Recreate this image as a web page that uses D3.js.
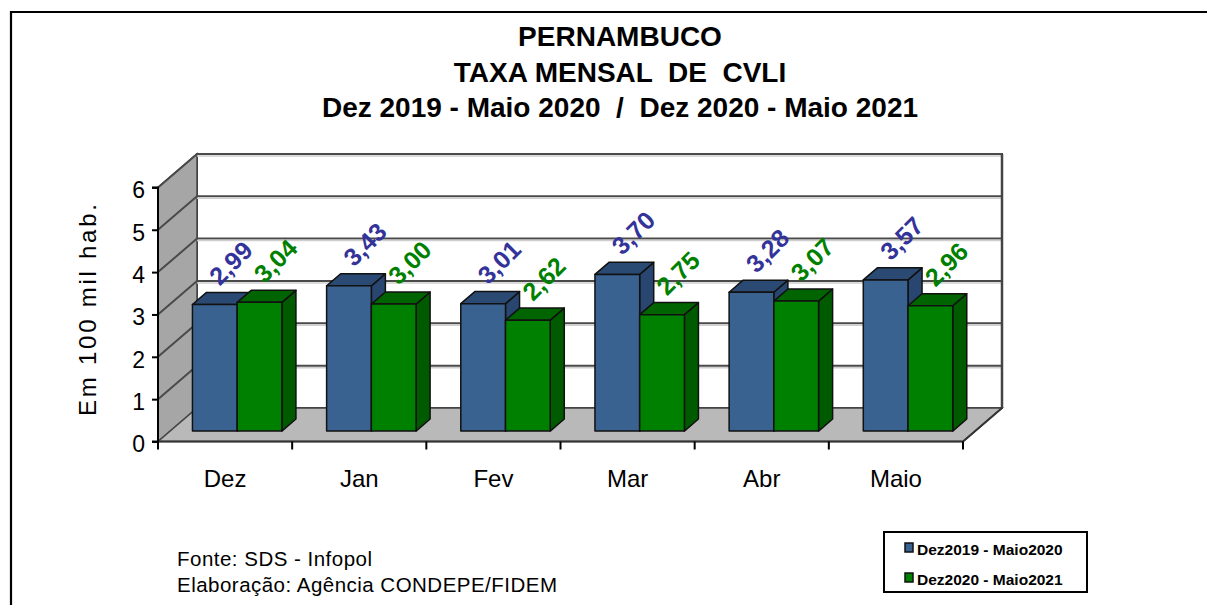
<!DOCTYPE html>
<html><head><meta charset="utf-8">
<script src="https://cdn.jsdelivr.net/npm/d3@7"></script>
<style>
html,body{margin:0;padding:0;background:#fff;}
svg{display:block;font-family:"Liberation Sans",Arial,sans-serif;}
</style></head>
<body><svg id="c" width="1207" height="605"></svg>
<script>
const categories = ["Dez","Jan","Fev","Mar","Abr","Maio"];
const seriesNames = ["Dez2019 - Maio2020","Dez2020 - Maio2021"];
const values2019 = [2.99,3.43,3.01,3.70,3.28,3.57];
const values2020 = [3.04,3.00,2.62,2.75,3.07,2.96];
const labels2019 = ["2,99","3,43","3,01","3,70","3,28","3,57"];
const labels2020 = ["3,04","3,00","2,62","2,75","3,07","2,96"];
const yTicks = [0,1,2,3,4,5,6];
const titleLines = ["PERNAMBUCO","TAXA MENSAL  DE  CVLI","Dez 2019 - Maio 2020  /  Dez 2020 - Maio 2021"];
const footLines = ["Fonte: SDS - Infopol","Elaboração: Agência CONDEPE/FIDEM"];

const seriesVals = [values2019, values2020];
const seriesLabels = [labels2019, labels2020];
const colors = [
  {front:"#3a6291", top:"#2b4a73", side:"#284670", label:"#333399"},
  {front:"#008000", top:"#006400", side:"#005a00", label:"#008000"}
];

const svg = d3.select("#c");
// outer frame
svg.append("path").attr("d","M11,605 L11,12 L1207,12").attr("fill","none").attr("stroke","#000").attr("stroke-width",2.2);

// titles
const tY = [46, 82, 117];
titleLines.forEach((t,i)=>{
  svg.append("text").attr("x",620).attr("y",tY[i]).attr("text-anchor","middle")
    .attr("font-weight","bold").attr("font-size",28).attr("fill","#000").style("white-space","pre").text(t);
});

// 3D geometry
const X0 = 158, X1 = 963;
const DX = 39, DY = -33.5;
const z0 = 0.31, z1 = 0.67;
const x = d3.scaleBand().domain(categories).range([X0, X1]).padding(0);
const xs = d3.scaleBand().domain([0,1]).range([0, x.bandwidth()]).paddingInner(0).paddingOuter(0.5);
const y = d3.scaleLinear().domain([0,6]).range([441.5, 187.4]);
const P = (px, v, z) => [px + z*DX, y(v) + z*DY];
const poly = pts => "M" + pts.map(p=>p.join(",")).join("L") + "Z";

// back wall
svg.append("path").attr("d", poly([P(X0,0,1),P(X1,0,1),P(X1,6,1),P(X0,6,1)]))
  .attr("fill","#fff").attr("stroke","#444").attr("stroke-width",2);
// left wall
svg.append("path").attr("d", poly([P(X0,0,0),P(X0,0,1),P(X0,6,1),P(X0,6,0)]))
  .attr("fill","#a6a6a6").attr("stroke","#444").attr("stroke-width",1.5);
// floor
svg.append("path").attr("d", poly([P(X0,0,0),P(X0,0,1),P(X1,0,1),P(X1,0,0)]))
  .attr("fill","#b9b9b9").attr("stroke","#444").attr("stroke-width",1.5);
// gridlines
yTicks.filter(v=>v>0).forEach(v=>{
  const a = P(X0,v,0), b = P(X0,v,1), c = P(X1,v,1);
  svg.append("path").attr("d", `M${a}L${b}L${c}`).attr("fill","none")
    .attr("stroke","#4a4a4a").attr("stroke-width",2);
  svg.append("path").attr("d", `M${b[0]},${b[1]+2}L${c[0]},${c[1]+2}`).attr("fill","none")
    .attr("stroke","#cfcfcf").attr("stroke-width",1.5);
});
// back wall right edge
svg.append("path").attr("d", `M${P(X1,0,1)}L${P(X1,6,1)}`).attr("stroke","#444").attr("stroke-width",2.5);
// floor front edge
svg.append("path").attr("d", `M${P(X0,0,0)}L${P(X1,0,0)}L${P(X1,0,1)}`).attr("fill","none").attr("stroke","#333").attr("stroke-width",2);

// bars
categories.forEach((c,i)=>{
  [0,1].forEach(s=>{
    const v = seriesVals[s][i];
    const xl = x(c) + xs(s), xr = xl + xs.bandwidth();
    const col = colors[s];
    const g = svg.append("g");
    g.append("path").attr("d", poly([P(xr,0,z0),P(xr,0,z1),P(xr,v,z1),P(xr,v,z0)]))
      .attr("fill",col.side).attr("stroke","#111").attr("stroke-width",1.5).attr("stroke-linejoin","round");
    g.append("path").attr("d", poly([P(xl,v,z0),P(xr,v,z0),P(xr,v,z1),P(xl,v,z1)]))
      .attr("fill",col.top).attr("stroke","#111").attr("stroke-width",1.5).attr("stroke-linejoin","round");
    g.append("path").attr("d", poly([P(xl,0,z0),P(xr,0,z0),P(xr,v,z0),P(xl,v,z0)]))
      .attr("fill",col.front).attr("stroke","#111").attr("stroke-width",1.5).attr("stroke-linejoin","round");
  });
});

// data labels
categories.forEach((c,i)=>{
  [0,1].forEach(s=>{
    const v = seriesVals[s][i];
    const xc = x(c) + xs(s) + xs.bandwidth()/2;
    const p = P(xc, v, z1);
    const lx = p[0] - 9, ly = p[1] - 6;
    svg.append("text").attr("transform",`translate(${lx},${ly}) rotate(-45)`)
      .attr("font-weight","bold").attr("font-size",25).attr("fill",colors[s].label)
      .text(seriesLabels[s][i]);
  });
});

// y axis
const yAxis = d3.axisLeft(y).tickValues(yTicks).tickSize(6).tickPadding(7).tickFormat(d3.format("d"));
const ga = svg.append("g").attr("transform",`translate(${X0},0)`).call(yAxis);
ga.select(".domain").attr("stroke","#000").attr("stroke-width",2).attr("d",`M-6,${y(6)}H0V${y(0)}H-6`);
ga.selectAll(".tick line").attr("stroke","#000").attr("stroke-width",2);
ga.selectAll(".tick text").attr("font-size",23).attr("font-family","Liberation Sans, Arial, sans-serif").attr("fill","#000").attr("dy","0.45em");

// x axis
const gx = svg.append("g").attr("transform",`translate(0,${y(0)})`);
const bounds = categories.map(c=>x(c)).concat([X1]);
gx.selectAll("line").data(bounds).join("line")
  .attr("x1",d=>d).attr("x2",d=>d).attr("y1",0).attr("y2",8).attr("stroke","#000").attr("stroke-width",2);
gx.selectAll("text").data(categories).join("text")
  .attr("x",c=>x(c)+x.bandwidth()/2).attr("y",45).attr("text-anchor","middle")
  .attr("font-size",24).attr("fill","#000").text(c=>c);

// y title
svg.append("text").attr("transform","translate(96,310) rotate(-90)").attr("text-anchor","middle")
  .attr("font-size",24).attr("fill","#000").attr("textLength",212).attr("lengthAdjust","spacing").text("Em 100 mil hab.");

// legend
const lg = svg.append("g");
lg.append("rect").attr("x",884).attr("y",532).attr("width",203).attr("height",60)
  .attr("fill","#fff").attr("stroke","#000").attr("stroke-width",2);
seriesNames.forEach((n,i)=>{
  lg.append("rect").attr("x",905).attr("y",543+i*30).attr("width",8).attr("height",9)
    .attr("fill",colors[i].front).attr("stroke","#111").attr("stroke-width",1.5);
  lg.append("text").attr("x",917).attr("y",555+i*30).attr("font-weight","bold")
    .attr("font-size",15.5).attr("fill","#000").text(n);
});

// footer
const fy = [566, 592];
const fl = [195, 380];
footLines.forEach((t,i)=>{
  svg.append("text").attr("x",177).attr("y",fy[i]).attr("font-size",20.5).attr("fill","#000")
    .attr("textLength",fl[i]).attr("lengthAdjust","spacing").text(t);
});
</script></body></html>
